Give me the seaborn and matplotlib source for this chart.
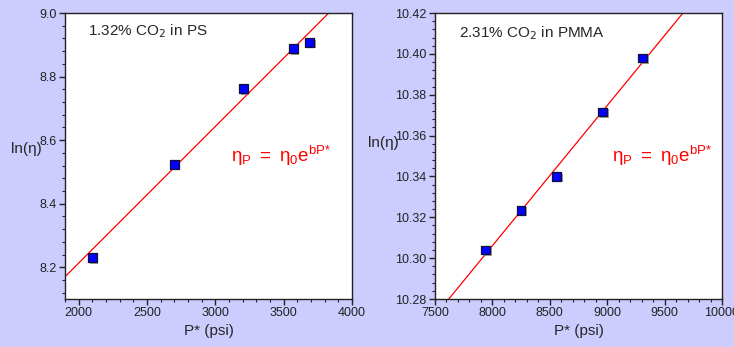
import seaborn as sns
import matplotlib.pyplot as plt
from matplotlib.ticker import AutoMinorLocator, FormatStrFormatter
from matplotlib import patheffects

# PS 데이터 (1.32% CO2)
ps_p = [2100, 2700, 3205, 3570, 3690]
ps_ln = [8.23, 8.524, 8.762, 8.888, 8.908]
ps_fit_p = [1900, 3830]
ps_fit_ln = [8.17, 9.0]

# PMMA 데이터 (2.31% CO2)
pmma_p = [7940, 8250, 8560, 8960, 9310]
pmma_ln = [10.304, 10.3235, 10.340, 10.3715, 10.398]
pmma_fit_p = [7620, 9660]
pmma_fit_ln = [10.28, 10.42]

sns.set_style('ticks')
plt.rcParams['font.family'] = ['Liberation Sans', 'DejaVu Sans']

fig = plt.figure(figsize=(7.34, 3.47), dpi=100)
fig.patch.set_facecolor('#ccccff')

panels = [
    dict(rect=[65/734, 48/347, 287/734, 286/347], px=ps_p, py=ps_ln, fx=ps_fit_p, fy=ps_fit_ln,
         xlim=(1900, 4000), ylim=(8.1, 9.0), xt=range(2000, 4001, 500), yt=[8.2, 8.4, 8.6, 8.8, 9.0],
         yfmt='%.1f', title='1.32% CO$_2$ in PS', tpos=(0.08, 0.935), eq=(0.58, 0.5), yl=(-0.135, 0.5)),
    dict(rect=[435/734, 48/347, 287/734, 286/347], px=pmma_p, py=pmma_ln, fx=pmma_fit_p, fy=pmma_fit_ln,
         xlim=(7500, 10000), ylim=(10.28, 10.42), xt=range(7500, 10001, 500),
         yt=[10.28, 10.30, 10.32, 10.34, 10.36, 10.38, 10.40, 10.42],
         yfmt='%.2f', title='2.31% CO$_2$ in PMMA', tpos=(0.085, 0.93), eq=(0.615, 0.5), yl=(-0.18, 0.52)),
]

for p in panels:
    ax = fig.add_axes(p['rect'])
    ax.set_facecolor('white')
    sns.lineplot(x=p['fx'], y=p['fy'], ax=ax, color='red', linewidth=0.9)
    sns.scatterplot(x=p['px'], y=p['py'], ax=ax, marker='s', s=40, color='#0000ff',
                    edgecolor='#111133', linewidth=0.9, zorder=5)
    ax.collections[-1].set_path_effects([
        patheffects.SimplePatchShadow(offset=(1.2, -1.2), shadow_rgbFace='#888888', alpha=0.8),
        patheffects.Normal()])
    ax.set_xlim(*p['xlim'])
    ax.set_ylim(*p['ylim'])
    ax.set_xticks(list(p['xt']))
    ax.set_yticks(p['yt'])
    ax.yaxis.set_major_formatter(FormatStrFormatter(p['yfmt']))
    ax.xaxis.set_minor_locator(AutoMinorLocator(5))
    ax.yaxis.set_minor_locator(AutoMinorLocator(5))
    ax.tick_params(which='major', length=4, width=1, labelsize=9, colors='#222222', pad=2)
    ax.tick_params(which='minor', length=2, width=0.8, colors='#222222')
    for s in ax.spines.values():
        s.set_visible(True)
        s.set_color('#222222')
        s.set_linewidth(1)
    ax.set_xlabel('P* (psi)', fontsize=11, labelpad=3)
    ax.set_ylabel('ln(η)', fontsize=11, rotation=0)
    ax.yaxis.set_label_coords(*p['yl'])
    ax.text(p['tpos'][0], p['tpos'][1], p['title'], transform=ax.transAxes, fontsize=11,
            va='center', ha='left')
    ax.text(p['eq'][0], p['eq'][1], r'$\mathregular{\eta_P\;=\;\eta_0 e^{bP{*}}}$', transform=ax.transAxes,
            fontsize=13.5, color='red', va='center', ha='left')

plt.savefig('out.png', dpi=100, facecolor=fig.get_facecolor())
